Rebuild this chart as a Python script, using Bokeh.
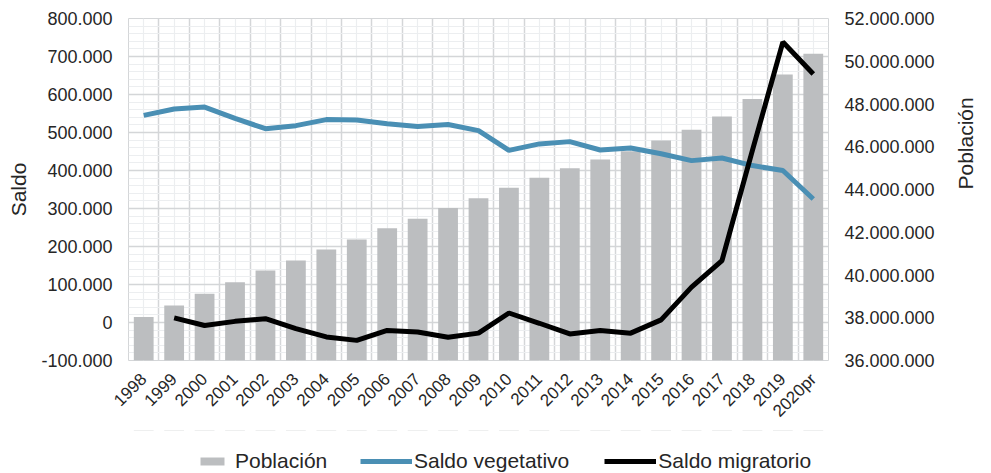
import math
from bokeh.plotting import figure
from bokeh.layouts import column
from bokeh.models import (Range1d, LinearAxis, FixedTicker, CustomJSTickFormatter,
                          Legend, LegendItem, Grid, FactorRange)
from bokeh.embed import file_html
from bokeh.resources import INLINE

years = ["1998", "1999", "2000", "2001", "2002", "2003", "2004", "2005", "2006",
         "2007", "2008", "2009", "2010", "2011", "2012", "2013", "2014", "2015",
         "2016", "2017", "2018", "2019", "2020pr"]
poblacion = [38.03e6, 38.57e6, 39.12e6, 39.66e6, 40.21e6, 40.68e6, 41.19e6, 41.66e6,
             42.19e6, 42.63e6, 43.13e6, 43.59e6, 44.08e6, 44.55e6, 45.00e6, 45.40e6,
             45.79e6, 46.29e6, 46.79e6, 47.42e6, 48.23e6, 49.38e6, 50.35e6]
saldo_vegetativo = [545000, 562000, 567000, 537000, 510000, 518000, 534000, 533000,
                    523000, 516000, 521000, 505000, 453000, 470000, 476000, 454000,
                    459000, 444000, 426000, 433000, 413000, 400000, 325000]
years_migr = years[1:]
saldo_migratorio = [12000, -8000, 3000, 10000, -16000, -38000, -47000, -21000, -25000,
                    -39000, -28000, 25000, -2000, -30000, -21000, -28000, 7000, 93000,
                    163000, 453000, 738000, 654000]

left_ticks = list(range(-100000, 800001, 100000))
right_ticks = [36e6 + 2e6 * i for i in range(9)]

FONT = "Liberation Sans"
TXT = "#262626"
MAJOR = "#d4d6d8"
MINOR = "#eceef0"
C_POB = "#bcbec0"
C_VEG = "#4a8fb4"
C_MIG = "#000000"

p = figure(x_range=FactorRange(*years), y_range=Range1d(-100000, 800000),
           width=991, height=430,
           min_border_left=128, min_border_right=158, min_border_top=18, min_border_bottom=70,
           output_backend="svg", toolbar_location=None)
p.x_range.range_padding = 0
p.extra_y_ranges = {"pob": Range1d(36e6, 52e6)}
p.background_fill_color = "white"
p.outline_line_color = MAJOR

fmt = CustomJSTickFormatter(code="""
var s = Math.abs(Math.round(tick)).toString().replace(/\\B(?=(\\d{3})+(?!\\d))/g, ".");
return (tick < 0 ? "-" : "") + s;
""")

# grids
p.xgrid.visible = False
p.ygrid.visible = False
minor_y = [v + d for v in left_ticks[:-1] for d in (20000, 40000, 60000, 80000)]
gy = Grid(dimension=1, ticker=FixedTicker(ticks=left_ticks, minor_ticks=minor_y),
          grid_line_color=MAJOR, grid_line_width=1.5,
          minor_grid_line_color=MINOR, minor_grid_line_width=1)
gx = Grid(dimension=0, ticker=FixedTicker(ticks=[float(i) for i in range(len(years) + 1)],
                                          minor_ticks=[i + 0.5 for i in range(len(years))]),
          grid_line_color=MAJOR, grid_line_width=1.5,
          minor_grid_line_color=MINOR, minor_grid_line_width=1.2)
p.add_layout(gx, "center")
p.add_layout(gy, "center")

p.vbar(x=years, top=poblacion, bottom=36e6, width=0.65, y_range_name="pob",
       fill_color=C_POB, line_color=None)
p.line(x=years, y=saldo_vegetativo, line_color=C_VEG, line_width=5)
p.line(x=years_migr, y=saldo_migratorio, line_color=C_MIG, line_width=5)

# left axis
ya = p.yaxis[0]
ya.ticker = FixedTicker(ticks=left_ticks)
ya.formatter = fmt
ya.axis_label = "Saldo"

# right axis
ra = LinearAxis(y_range_name="pob", ticker=FixedTicker(ticks=right_ticks), formatter=fmt,
                axis_label="Población")
p.add_layout(ra, "right")
if "axis_label_orientation" in ra.properties():
    ra.axis_label_orientation = math.pi / 2

for ax in [ya, ra, p.xaxis[0]]:
    ax.axis_line_color = None
    ax.major_tick_line_color = None
    ax.minor_tick_line_color = None
    ax.major_tick_out = 0
    ax.minor_tick_out = 0
    ax.major_label_text_font = FONT
    ax.major_label_text_color = TXT
    ax.axis_label_text_font = FONT
    ax.axis_label_text_color = TXT
    ax.axis_label_text_font_style = "normal"
    ax.axis_label_text_font_size = "21px"

for ax in [ya, ra]:
    ax.major_label_text_font_size = "18px"
    ax.major_label_standoff = 16
ya.axis_label_standoff = 8
ra.axis_label_standoff = 28

xa = p.xaxis[0]
xa.major_label_orientation = math.pi / 4
xa.major_label_text_font_size = "17px"
xa.major_label_standoff = 16

# legend strip below the chart (series lie entirely above its visible range; only the legend shows)
lg = figure(width=991, height=43, x_range=FactorRange(*years), y_range=Range1d(-2e6, -1e6),
            min_border=0, output_backend="svg", toolbar_location=None)
lg.axis.visible = False
lg.grid.visible = False
lg.outline_line_color = None
r_pob = lg.vbar(x=years, top=poblacion, bottom=36e6, width=0.65, fill_color=C_POB, line_color=None)
r_veg = lg.line(x=years, y=saldo_vegetativo, line_color=C_VEG, line_width=5)
r_mig = lg.line(x=years_migr, y=saldo_migratorio, line_color=C_MIG, line_width=5)

leg_common = dict(orientation="horizontal", label_text_font=FONT, label_text_font_size="21px",
                  label_text_color=TXT, border_line_color=None, background_fill_alpha=0,
                  margin=0, padding=0, glyph_height=10)
leg1 = Legend(items=[LegendItem(label="Población", renderers=[r_pob])],
              location=(69, 0), glyph_width=30, label_standoff=8, **leg_common)
leg2 = Legend(items=[LegendItem(label="Saldo vegetativo", renderers=[r_veg]),
                     LegendItem(label="Saldo migratorio", renderers=[r_mig])],
              location=(232, 0), glyph_width=52, label_standoff=2, spacing=35, **leg_common)
lg.add_layout(leg1, "center")
lg.add_layout(leg2, "center")

layout = column(p, lg, spacing=0)
open("out.html", "w").write(file_html(layout, INLINE))
